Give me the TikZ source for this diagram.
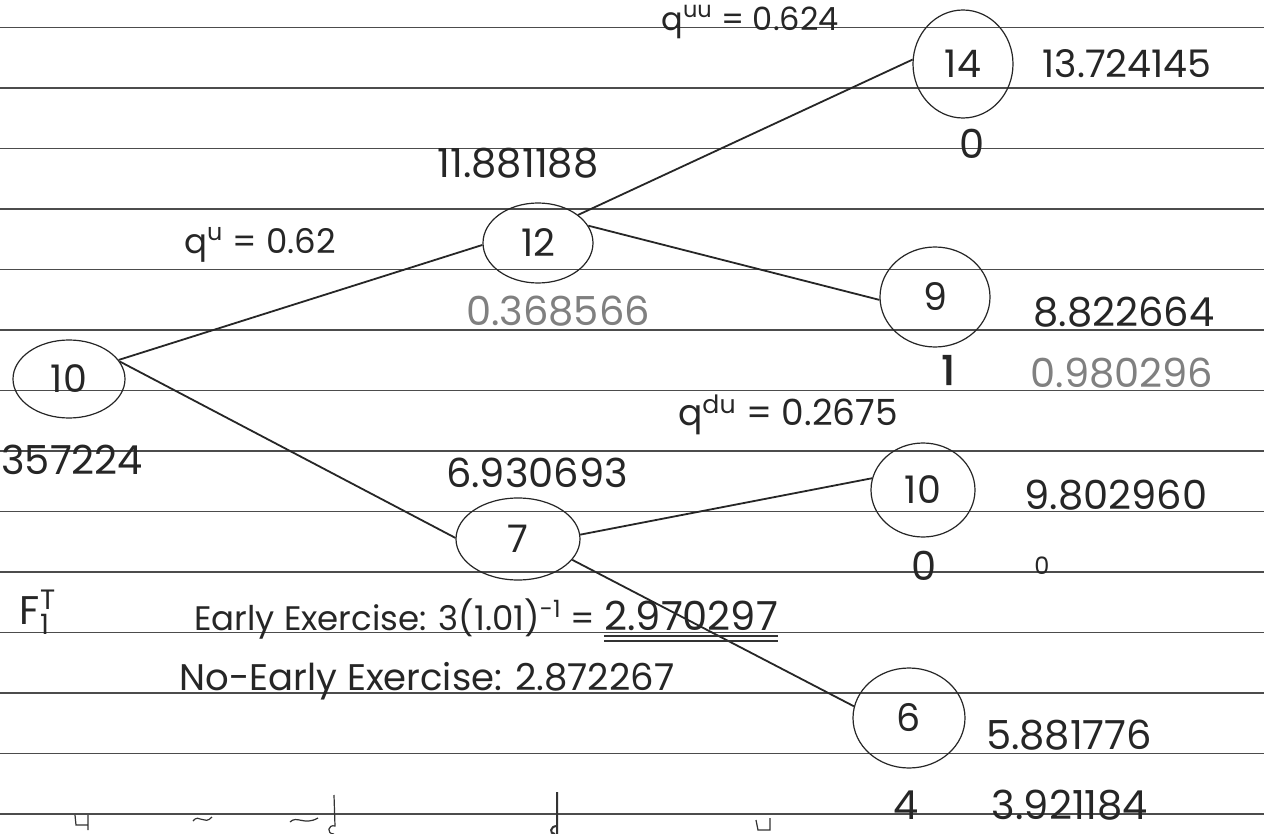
\documentclass[tikz,border=0pt]{standalone}
\usepackage{fontspec}
\setmainfont{Poppins}
\usetikzlibrary{shapes.geometric}
\begin{document}
\begin{tikzpicture}[x=0.5pt,y=-0.5pt,
  rule/.style={draw=black!70,line width=0.75pt},
  bubble/.style={ellipse,draw=black!85,line width=0.6pt,inner sep=0pt,text=black!85,font=\fontsize{19}{22}\selectfont},
  hand/.style={inner sep=0pt,text=black!85,font=\fontsize{20}{23}\selectfont},
  word/.style={inner sep=0pt,text=black!85,font=\fontsize{17}{20}\selectfont},
  faint/.style={hand,text=black!50},
  branch/.style={draw=black!85,line width=0.9pt},
  stroke/.style={draw=black!80,line width=0.6pt}]
\fill[white] (0,0) rectangle (1264,834);
\useasboundingbox (0,0) rectangle (1264,834);
% ruled paper
\foreach \k in {0,...,13} \draw[rule] (0,27.5+60.5*\k) -- (1264,27.5+60.5*\k);
% tree nodes
\node[bubble,minimum width=56pt,minimum height=39pt] (A) at (69,379) {10};
\node[bubble,minimum width=55pt,minimum height=40pt] (B) at (538,243) {12};
\node[bubble,minimum width=62pt,minimum height=41pt] (C) at (518,539) {7};
\node[bubble,minimum width=50pt,minimum height=54pt] (D) at (963,64) {14};
\node[bubble,minimum width=55pt,minimum height=50pt] (E) at (935,297) {9};
\node[bubble,minimum width=52pt,minimum height=47pt] (F) at (923,490) {10};
\node[bubble,minimum width=56pt,minimum height=50pt] (G) at (909,718) {6};
% branches
\draw[branch] (A.21) -- (B.182);
\draw[branch] (A.19) -- (C.179);
\draw[branch] (B.35) -- (D.175);
\draw[branch] (B.19) -- (E.183);
\draw[branch] (C.4) -- (F.167);
\draw[branch] (C.-21) -- (G.168);
% labels
\node[hand,font=\fontsize{16}{19}\selectfont] (quu) at (750,22) {q\textsuperscript{uu} = 0.624};
\node[hand,font=\fontsize{19}{22}\selectfont] (v14) at (1127,64) {13.724145};
\node[hand] (p14) at (972,144) {0};
\node[hand] (v12) at (518,163) {11.881188};
\node[hand,font=\fontsize{17}{20}\selectfont] (qu) at (260,245) {q\textsuperscript{u} = 0.62};
\node[faint] (p12) at (558,311) {0.368566};
\node[hand] (v9) at (1124,312) {8.822664};
\node[hand,font=\fontsize{20}{23}\selectfont\addfontfeature{FakeBold=3}] (m9) at (948,370) {1};
\node[faint] (r9) at (1122,373) {0.980296};
\node[hand,font=\fontsize{18}{21}\selectfont] (qdu) at (788,415) {q\textsuperscript{du} = 0.2675};
\node[hand,anchor=west] (v0) at (1,460) {357224};
\node[hand] (v7) at (537,473) {6.930693};
\node[hand] (v10) at (1116,495) {9.802960};
\node[hand] (p10) at (924,566) {0};
\node[hand,font=\fontsize{12}{14}\selectfont] (r10) at (1042,566) {0};
\node[hand,font=\fontsize{20}{22}\selectfont] (Ft) at (38,612) {F$^{\mathrm{T}}_{\mathrm{1}}$};
\node[word,anchor=base west] (ee) at (194,630) {Early Exercise: 3(1.01)\textsuperscript{-1} =};
\node[hand,anchor=base west] (eev) at (604,630) {2.970297};
\draw[stroke] ([yshift=-3pt]eev.base west) -- ([yshift=-3pt]eev.base east);
\draw[stroke] ([yshift=-5.5pt]eev.base west) -- ([yshift=-5.5pt]eev.base east);
\node[word,font=\fontsize{18.5}{21}\selectfont,anchor=base west] (ne) at (179,690) {No-Early Exercise: 2.872267};
\node[hand] (v6) at (1069,735) {5.881776};
\node[hand] (p6) at (906,805) {4};
\node[hand] (r6) at (1070,805) {3.921184};
% tops of the next handwritten line, cut off
\draw[stroke] (75,815) -- (76,825) -- (88,825) (88,815) -- (88,830);
\draw[stroke] (193,821) .. controls (199,813) and (204,826) .. (212,817);
\draw[stroke] (290,822) .. controls (297,815) and (304,826) .. (318,818);
\draw[stroke] (334,795) -- (335,826) .. controls (328,824) and (326,834) .. (334,834);
\draw[stroke,line width=1pt] (557,792) -- (557,834) (557,826) .. controls (550,826) and (549,834) .. (555,834);
\draw[stroke] (756,820) -- (758,830) -- (770,830) -- (770,818);
\end{tikzpicture}
\end{document}
